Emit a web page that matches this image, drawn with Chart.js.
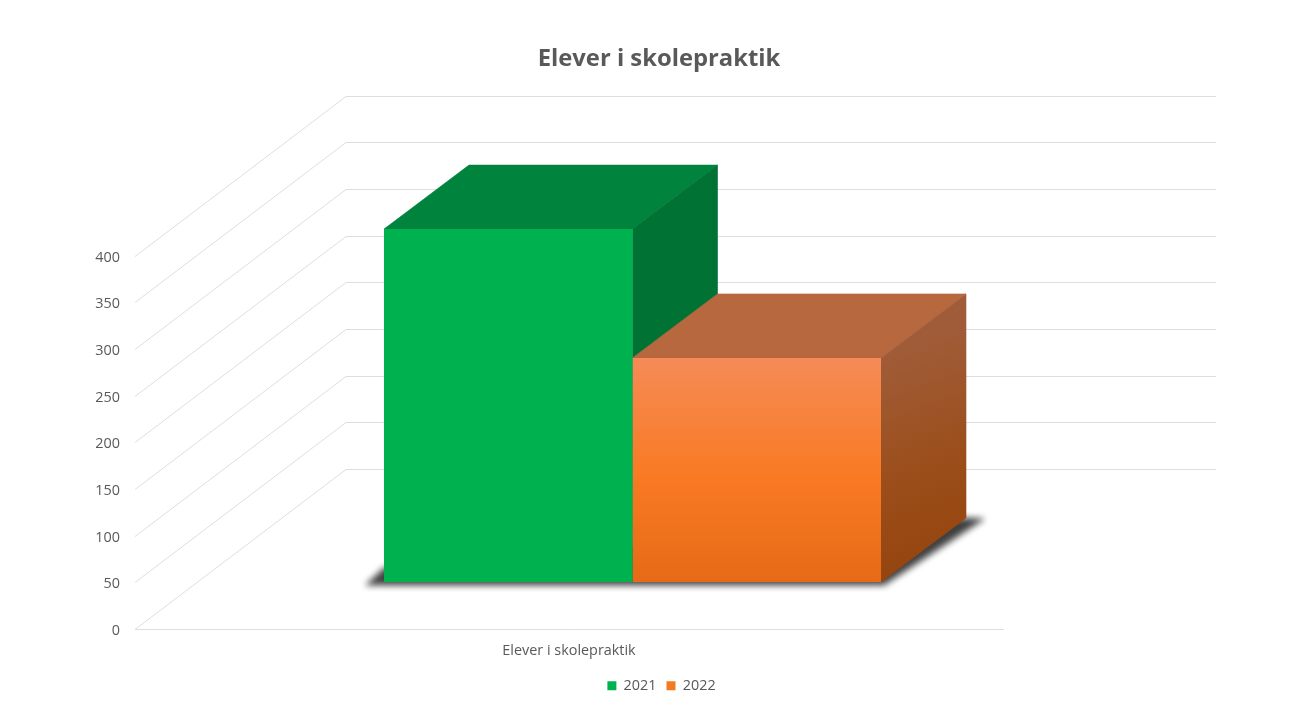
<!DOCTYPE html>
<html>
<head>
<meta charset="utf-8">
<title>Elever i skolepraktik</title>
<script src="https://cdn.jsdelivr.net/npm/chart.js@4/dist/chart.umd.min.js"></script>
<style>
  html, body { margin: 0; padding: 0; background: #fff; }
  #wrap { width: 1316px; height: 710px; }
</style>
</head>
<body>
<div id="wrap"><canvas id="myChart" width="1316" height="710"></canvas></div>
<script>
// data
const categories = ["Elever i skolepraktik"];
const years = ["2021", "2022"];
const values2021 = [378];
const values2022 = [240];
const yTicks = [0, 50, 100, 150, 200, 250, 300, 350, 400];

// fake 3D: how far the walls and the bars sit behind the front of the floor
const WALL_DX = 211, WALL_DY = -160;
const BAR_DX = 63.5, BAR_DY = -47;
const DEPTH_DX = 85, DEPTH_DY = -64;

const GRID = "#dedede";
const TEXT = "#595959";

function face(ctx, pts, fill) {
  ctx.beginPath();
  pts.forEach((p, i) => i ? ctx.lineTo(p[0], p[1]) : ctx.moveTo(p[0], p[1]));
  ctx.closePath();
  ctx.fillStyle = fill;
  ctx.fill();
  // closes the hairline seams between faces
  ctx.strokeStyle = fill;
  ctx.lineWidth = 0.6;
  ctx.stroke();
}

const walls = {
  id: "walls",
  beforeDatasetsDraw(chart) {
    const { ctx, scales: { x, y } } = chart;
    ctx.save();
    ctx.strokeStyle = GRID;
    ctx.lineWidth = 1;
    yTicks.forEach(t => {
      const py = Math.round(y.getPixelForValue(t)) + 0.5;
      ctx.beginPath();
      ctx.moveTo(x.left, py);
      ctx.lineTo(x.left + WALL_DX, py + WALL_DY);
      ctx.lineTo(x.right + WALL_DX + 2, py + WALL_DY);
      ctx.stroke();
    });
    ctx.restore();
  }
};

// top and side of every bar, and the shadow on the floor. Fronts come from the bar elements
const boxes = {
  id: "boxes",
  afterLayout(chart) {
    chart.legend.left += 5; // legend sits a little right of the title
  },
  beforeDatasetsDraw(chart) {
    const { ctx } = chart;
    const a = chart.getDatasetMeta(0).data[0];
    const b = chart.getDatasetMeta(1).data[0];
    ctx.save();
    ctx.translate(BAR_DX, BAR_DY);

    const l = a.x - a.width / 2, r = b.x + b.width / 2, base = a.base;
    ctx.save();
    ctx.filter = "blur(3px)";
    face(ctx, [
      [l - 18, base + 3], [r + 3, base + 3],
      [r + DEPTH_DX + 18, base + DEPTH_DY + 1], [r + DEPTH_DX, base + DEPTH_DY],
      [l, base - 14]
    ], "#404040");
    ctx.restore();

    [a, b].forEach((bar, i) => {
      const left = bar.x - bar.width / 2, right = bar.x + bar.width / 2;
      const top = bar.y, bot = bar.base;
      face(ctx, [[left, top], [right, top], [right + DEPTH_DX, top + DEPTH_DY], [left + DEPTH_DX, top + DEPTH_DY]],
        i ? "#b7683f" : "#00843d");
      let side = "#007233";
      if (i) {
        side = ctx.createLinearGradient(right, top, right + DEPTH_DX, bot);
        side.addColorStop(0, "#a05c38");
        side.addColorStop(0.5, "#9b4e1a");
        side.addColorStop(1, "#93420c");
      }
      face(ctx, [[right, top], [right + DEPTH_DX, top + DEPTH_DY], [right + DEPTH_DX, bot + DEPTH_DY], [right, bot]], side);
    });
    ctx.restore();

    ctx.save();
    ctx.translate(BAR_DX, BAR_DY);
  },
  afterDatasetsDraw(chart) {
    chart.ctx.restore();
  }
};

function orangeFront(c) {
  const y = c.chart.scales.y;
  const y0 = y ? y.getPixelForValue(values2022[0]) : NaN;
  const y1 = y ? y.getPixelForValue(0) : NaN;
  if (!Number.isFinite(y0) || !Number.isFinite(y1)) return "#f97a23"; // legend asks before layout
  const g = c.chart.ctx.createLinearGradient(0, y0, 0, y1);
  g.addColorStop(0, "#f58b57");
  g.addColorStop(0.53, "#f97a23");
  g.addColorStop(1, "#e66a17");
  return g;
}

new Chart(document.getElementById("myChart"), {
  type: "bar",
  data: {
    labels: categories,
    datasets: [
      { label: years[0], data: values2021, backgroundColor: "#00b14f", clip: false },
      { label: years[1], data: values2022, backgroundColor: orangeFront, clip: false }
    ]
  },
  options: {
    responsive: false,
    animation: false,
    layout: { padding: { left: 2, bottom: 7 } },
    datasets: { bar: { categoryPercentage: 0.5726, barPercentage: 1 } },
    plugins: {
      title: {
        display: true,
        text: "Elever i skolepraktik",
        color: TEXT,
        font: { family: "'Open Sans'", size: 23.8, weight: "bold" },
        padding: { top: 45, bottom: 182 }
      },
      legend: {
        position: "bottom",
        labels: {
          color: TEXT,
          font: { family: "'Open Sans'", size: 14.4 },
          boxWidth: 9,
          boxHeight: 9,
          padding: 10,
          generateLabels(chart) {
            const items = Chart.defaults.plugins.legend.labels.generateLabels(chart);
            items[1].fillStyle = "#f47a20"; // flat swatch, not the bar gradient
            return items;
          }
        }
      },
      tooltip: { enabled: false }
    },
    scales: {
      x: {
        grid: { display: false },
        border: { color: GRID, width: 1 },
        ticks: { color: TEXT, font: { family: "'Open Sans'", size: 14.4 }, padding: 5 },
        afterFit(s) { s.height = 39.6; }
      },
      y: {
        min: 0,
        max: 400,
        grid: { display: false, drawTicks: false },
        border: { display: false },
        ticks: {
          color: TEXT,
          font: { family: "'Open Sans'", size: 14.4 },
          padding: 15,
          labelOffset: 2,
          stepSize: 50
        },
        afterFit(s) { s.width = 133; }
      },
      // empty axis, only keeps the floor short of the right edge
      spacer: {
        type: "linear",
        position: "right",
        grid: { display: false },
        border: { display: false },
        ticks: { display: false },
        afterFit(s) { s.width = 313; }
      }
    }
  },
  plugins: [walls, boxes]
});
</script>
</body>
</html>
